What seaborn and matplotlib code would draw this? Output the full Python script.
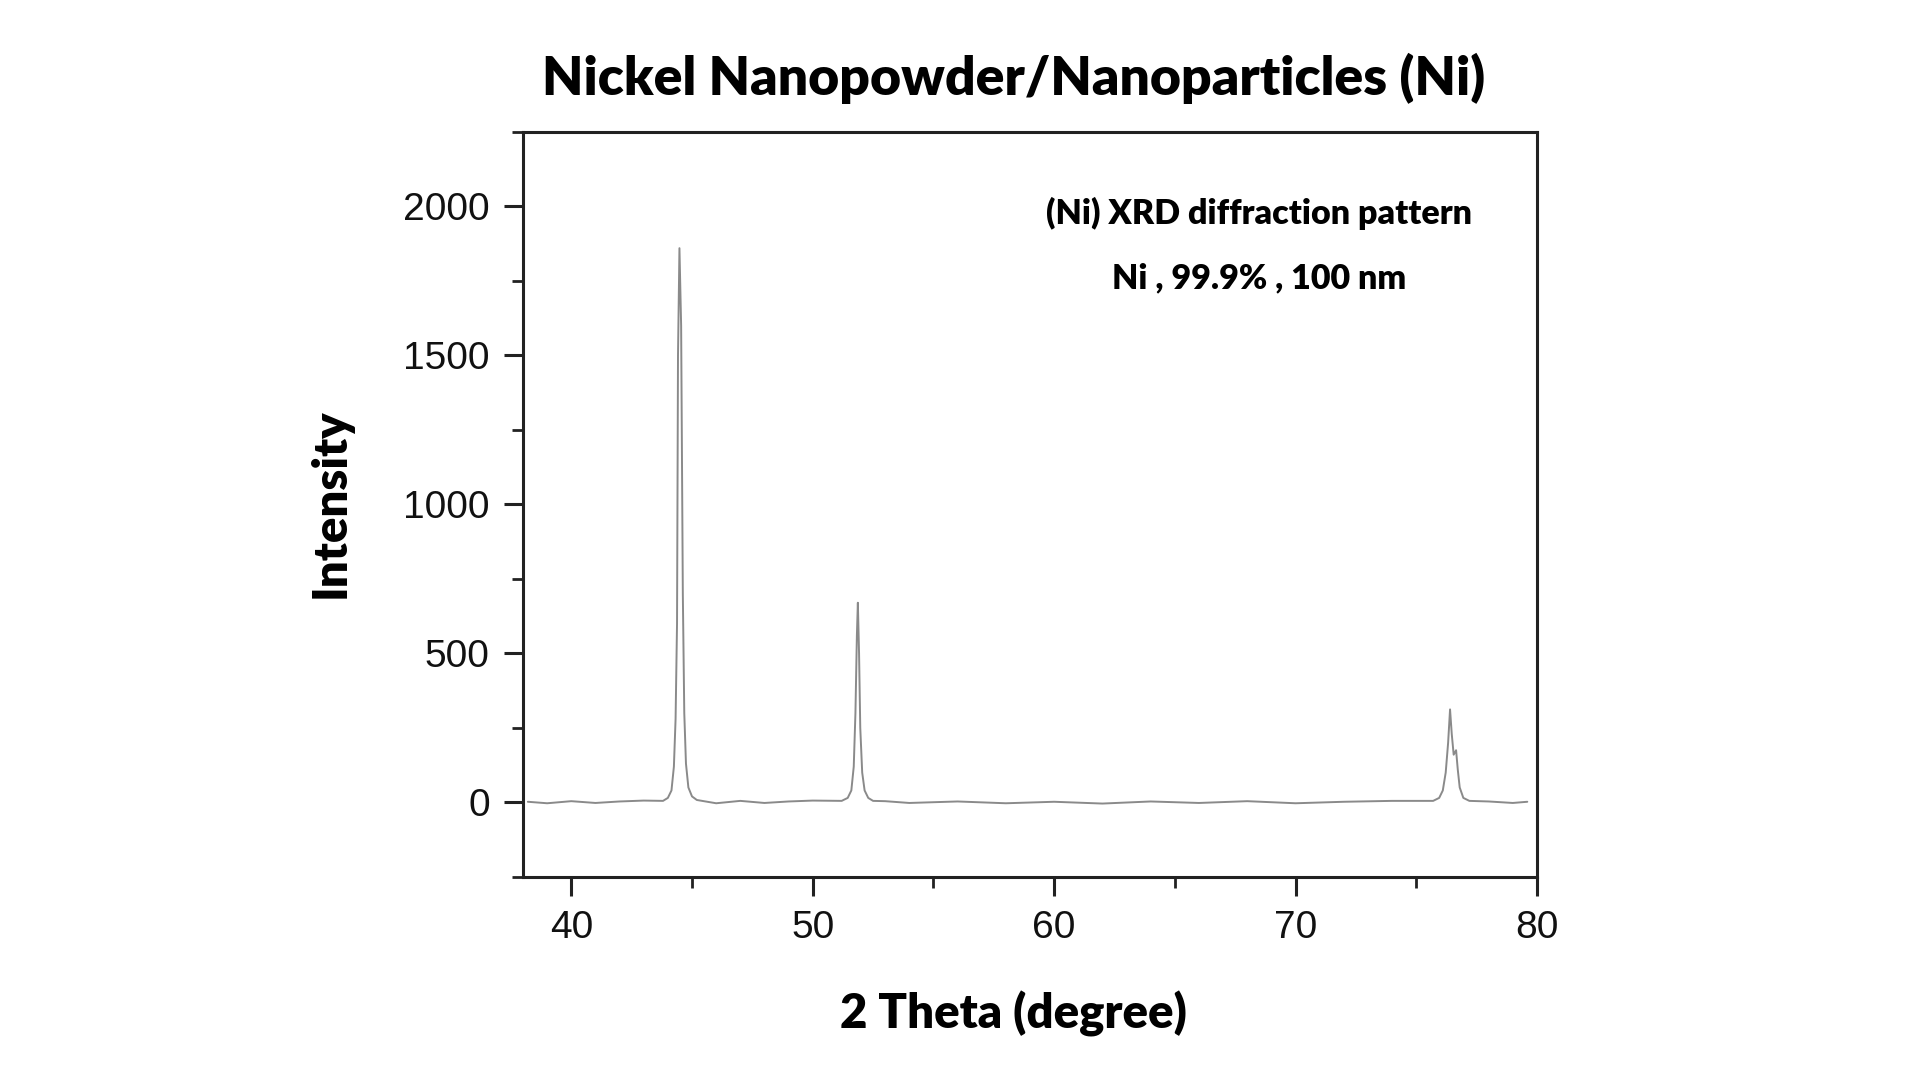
import numpy as np
import pandas as pd
import seaborn as sns
import matplotlib.pyplot as plt
from matplotlib.ticker import MultipleLocator

# points (2 theta in degrees, intensity in counts)
bg_theta = [38.2, 39.0, 40.0, 41.0, 42.0, 43.0, 46.0, 47.0, 48.0, 49.0, 50.0,
            53.0, 54.0, 56.0, 58.0, 60.0, 62.0, 64.0, 66.0, 68.0, 70.0, 72.0,
            74.0, 78.0, 79.0, 79.6]
bg_counts = [2, -3, 4, -2, 3, 6, -3, 5, -2, 3, 6,
             4, -2, 3, -3, 2, -4, 3, -2, 4, -3, 2,
             5, 3, -2, 2]

peak1_theta = [43.8, 44.0, 44.15, 44.25, 44.32, 44.38, 44.42, 44.48, 44.55,
               44.62, 44.68, 44.75, 44.85, 45.0, 45.2]
peak1_counts = [5, 15, 40, 120, 280, 600, 1500, 1860, 1600,
                700, 300, 130, 50, 20, 8]

peak2_theta = [51.2, 51.45, 51.6, 51.7, 51.77, 51.83, 51.87, 51.92, 51.97,
               52.05, 52.15, 52.3, 52.5]
peak2_counts = [5, 15, 40, 120, 300, 560, 670, 500, 250,
                100, 40, 15, 5]

peak3_theta = [75.7, 75.95, 76.1, 76.22, 76.32, 76.4, 76.47, 76.55, 76.65,
               76.72, 76.8, 76.95, 77.2]
peak3_counts = [5, 15, 40, 100, 200, 312, 230, 160, 175,
                110, 50, 15, 5]

title = "Nickel Nanopowder/Nanoparticles (Ni)"
note1 = "(Ni) XRD diffraction pattern"
note2 = "Ni , 99.9% , 100 nm"

df = pd.DataFrame({
    "theta": bg_theta + peak1_theta + peak2_theta + peak3_theta,
    "intensity": bg_counts + peak1_counts + peak2_counts + peak3_counts,
}).sort_values("theta")

sns.set_style("ticks")
plt.rcParams["font.family"] = ["Liberation Sans", "DejaVu Sans"]
bold_font = ["Lato", "DejaVu Sans"]

fig = plt.figure(figsize=(19.2, 10.8), dpi=100)
ax = fig.add_axes([0.2724, 0.1881, 0.5281, 0.6897])

sns.lineplot(data=df, x="theta", y="intensity", ax=ax, color="#8a8a8a",
             linewidth=1.4, sort=True, estimator=None)

ax.set_xlim(38, 80)
ax.set_ylim(-250, 2250)
ax.xaxis.set_major_locator(MultipleLocator(10))
ax.xaxis.set_minor_locator(MultipleLocator(5))
ax.yaxis.set_major_locator(MultipleLocator(500))
ax.yaxis.set_minor_locator(MultipleLocator(250))
ax.tick_params(which="major", direction="out", length=14, width=2.2,
               labelsize=28, color="#222222", labelcolor="#111111", pad=10)
ax.tick_params(which="minor", direction="out", length=8, width=2.0,
               color="#222222")
for s in ax.spines.values():
    s.set_linewidth(2.2)
    s.set_color("#222222")

ax.set_xlabel("")
ax.set_ylabel("")

fig.text(0.528, 0.927, title, ha="center", va="center", fontsize=38.5,
         fontweight="heavy", family=bold_font, color="black")
fig.text(0.172, 0.534, "Intensity", ha="center", va="center", rotation=90,
         fontsize=34, fontweight="heavy", family=bold_font, color="black")
fig.text(0.528, 0.061, "2 Theta (degree)", ha="center", va="center",
         fontsize=34, fontweight="heavy", family=bold_font, color="black")
ax.text(0.726, 0.890, note1, transform=ax.transAxes, ha="center", va="center",
        fontsize=24.5, fontweight="heavy", family=bold_font, color="black")
ax.text(0.726, 0.804, note2, transform=ax.transAxes, ha="center", va="center",
        fontsize=24.5, fontweight="heavy", family=bold_font, color="black")

fig.savefig("out.png", dpi=100, facecolor="white")
